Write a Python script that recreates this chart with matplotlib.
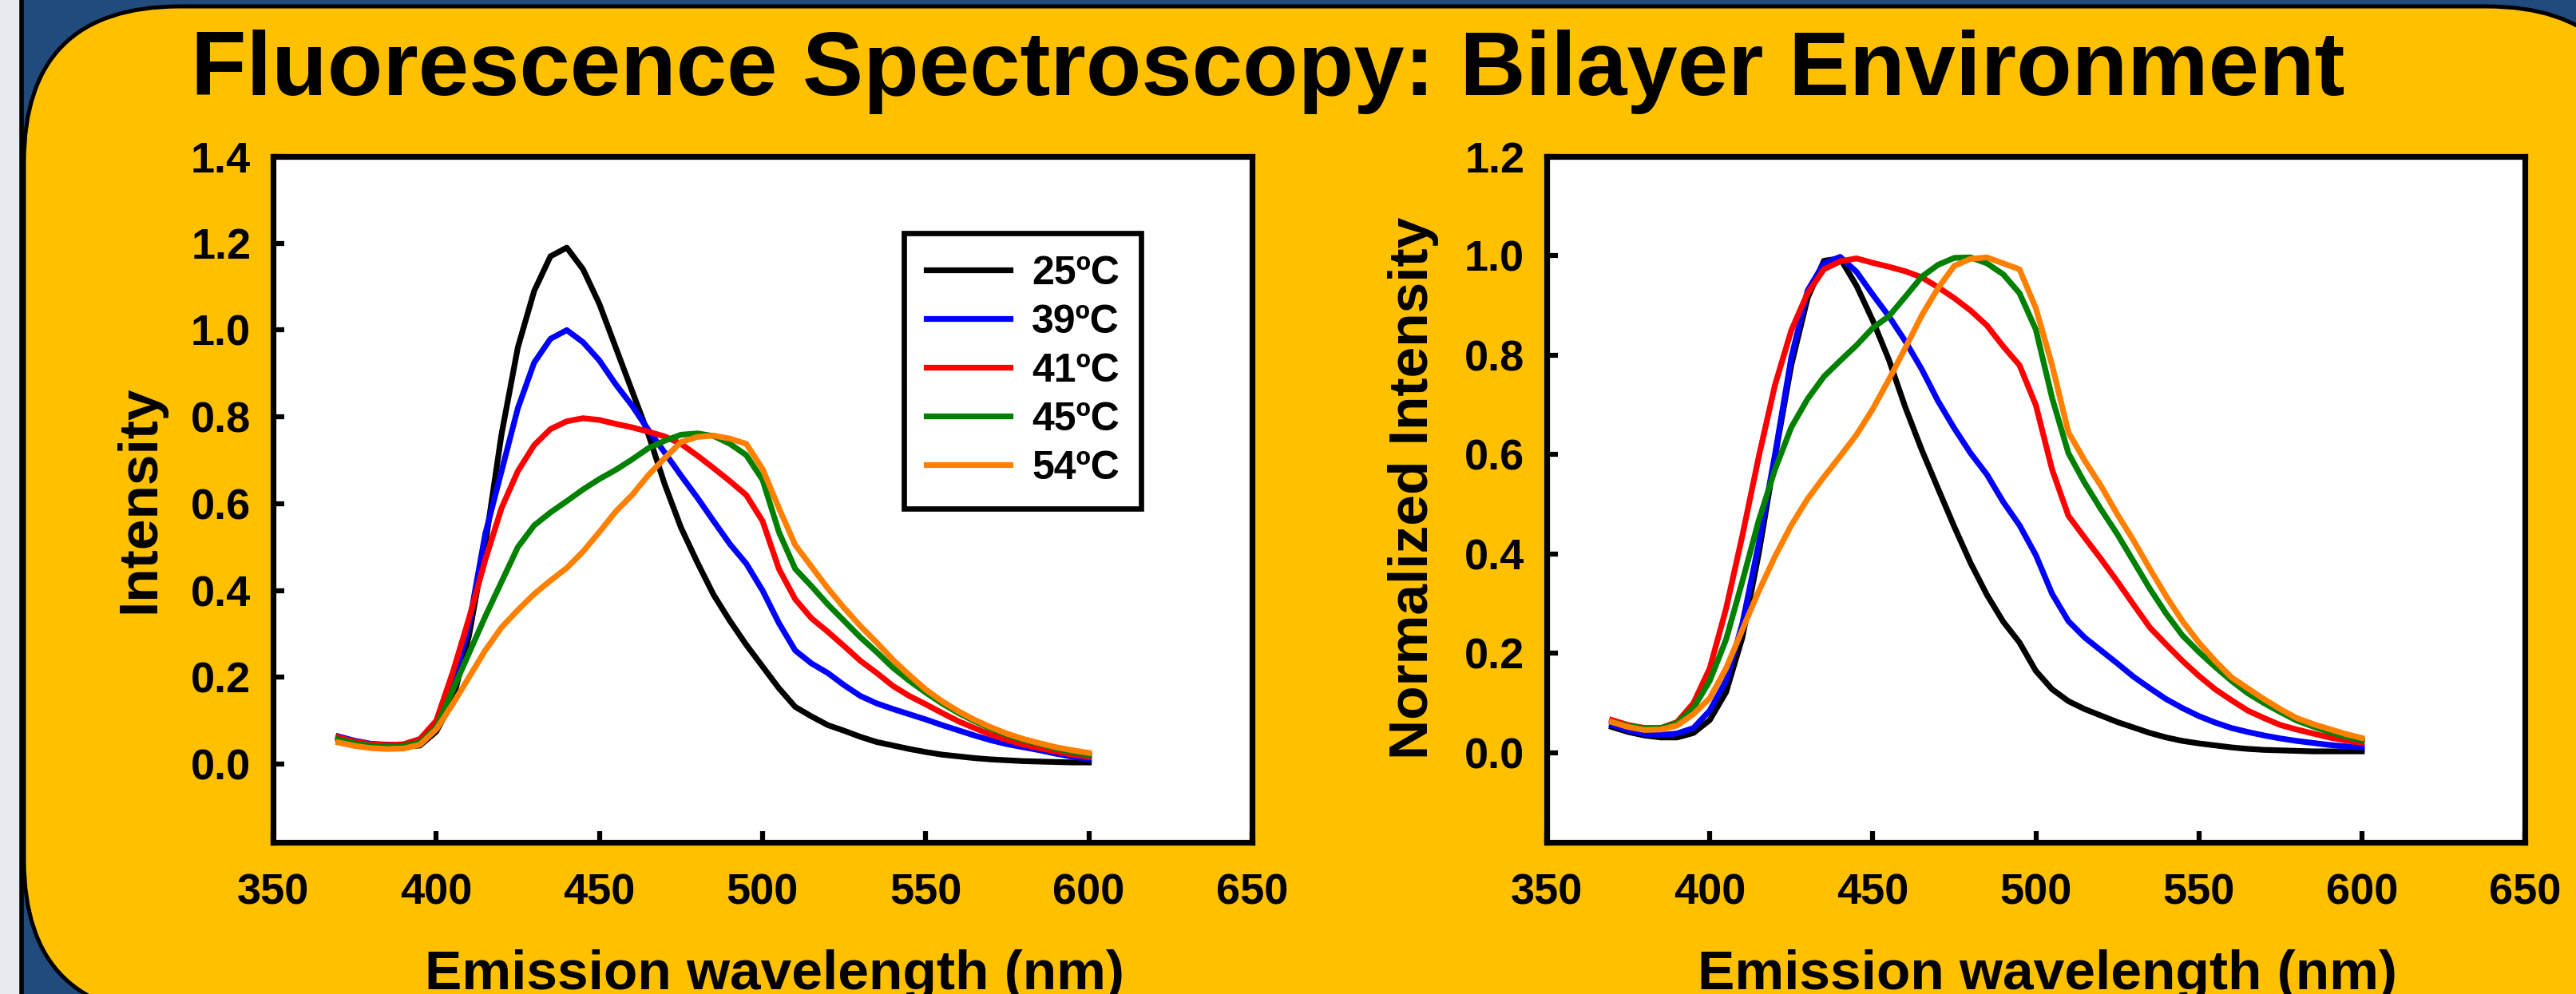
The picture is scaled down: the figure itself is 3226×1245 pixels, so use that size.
import matplotlib
matplotlib.use("Agg")
import matplotlib.pyplot as plt
from matplotlib.patches import Rectangle, FancyBboxPatch
from matplotlib.ticker import FormatStrFormatter

plt.rcParams['font.family'] = ['Liberation Sans', 'DejaVu Sans']
plt.rcParams['font.weight'] = 'bold'

# emission wavelength grid (nm)
wavelength = list(range(370, 601, 5))
temps = ['25ºC', '39ºC', '41ºC', '45ºC', '54ºC']
colors = ['black', '#0000ff', '#ff0000', '#008000', '#ff8000']

# raw intensity (left panel)
int_25 = [0.060, 0.050, 0.044, 0.041, 0.040, 0.043, 0.075, 0.145, 0.295, 0.505,
          0.760, 0.960, 1.090, 1.170, 1.190, 1.140, 1.060, 0.960, 0.860, 0.760,
          0.645, 0.545, 0.465, 0.390, 0.330, 0.275, 0.225, 0.175, 0.132, 0.110,
          0.090, 0.077, 0.063, 0.051, 0.043, 0.035, 0.028, 0.022, 0.018, 0.014,
          0.011, 0.009, 0.007, 0.006, 0.005, 0.004, 0.004]
int_39 = [0.064, 0.054, 0.047, 0.045, 0.045, 0.052, 0.090, 0.180, 0.320, 0.530,
          0.675, 0.820, 0.925, 0.980, 1.000, 0.972, 0.930, 0.875, 0.826, 0.770,
          0.718, 0.665, 0.614, 0.560, 0.507, 0.462, 0.400, 0.325, 0.262, 0.232,
          0.210, 0.182, 0.157, 0.140, 0.127, 0.115, 0.103, 0.090, 0.078, 0.066,
          0.055, 0.046, 0.039, 0.032, 0.024, 0.017, 0.012]
int_41 = [0.062, 0.052, 0.046, 0.044, 0.046, 0.058, 0.100, 0.210, 0.335, 0.470,
          0.590, 0.675, 0.735, 0.772, 0.790, 0.797, 0.793, 0.784, 0.776, 0.766,
          0.755, 0.738, 0.711, 0.682, 0.652, 0.620, 0.560, 0.450, 0.380, 0.336,
          0.305, 0.272, 0.238, 0.210, 0.180, 0.157, 0.138, 0.118, 0.099, 0.083,
          0.068, 0.056, 0.045, 0.037, 0.029, 0.022, 0.017]
int_45 = [0.057, 0.048, 0.042, 0.040, 0.042, 0.050, 0.085, 0.170, 0.255, 0.340,
          0.420, 0.500, 0.550, 0.580, 0.606, 0.633, 0.657, 0.678, 0.702, 0.728,
          0.745, 0.759, 0.762, 0.756, 0.738, 0.712, 0.655, 0.535, 0.450, 0.410,
          0.368, 0.330, 0.292, 0.258, 0.222, 0.192, 0.165, 0.140, 0.118, 0.099,
          0.082, 0.067, 0.055, 0.046, 0.036, 0.028, 0.021]
int_54 = [0.050, 0.042, 0.037, 0.035, 0.036, 0.045, 0.080, 0.138, 0.200, 0.262,
          0.315, 0.355, 0.392, 0.423, 0.452, 0.490, 0.535, 0.582, 0.620, 0.666,
          0.705, 0.742, 0.754, 0.757, 0.750, 0.738, 0.680, 0.590, 0.505, 0.455,
          0.405, 0.360, 0.318, 0.280, 0.240, 0.205, 0.172, 0.145, 0.122, 0.102,
          0.085, 0.070, 0.058, 0.048, 0.039, 0.032, 0.026]

# normalized intensity (right panel)
norm_25 = [0.052, 0.042, 0.035, 0.031, 0.031, 0.040, 0.066, 0.122, 0.232, 0.400,
           0.595, 0.780, 0.915, 0.990, 0.995, 0.940, 0.870, 0.790, 0.695, 0.610,
           0.532, 0.455, 0.382, 0.318, 0.264, 0.222, 0.165, 0.128, 0.104, 0.088,
           0.075, 0.062, 0.051, 0.040, 0.031, 0.024, 0.019, 0.015, 0.011, 0.008,
           0.006, 0.005, 0.004, 0.003, 0.003, 0.003, 0.003]
norm_39 = [0.056, 0.045, 0.038, 0.036, 0.039, 0.050, 0.085, 0.145, 0.260, 0.420,
           0.600, 0.795, 0.930, 0.985, 0.998, 0.968, 0.922, 0.878, 0.828, 0.772,
           0.708, 0.653, 0.603, 0.560, 0.505, 0.458, 0.398, 0.320, 0.265, 0.232,
           0.206, 0.180, 0.153, 0.130, 0.108, 0.090, 0.074, 0.061, 0.050, 0.042,
           0.035, 0.029, 0.024, 0.020, 0.016, 0.013, 0.011]
norm_41 = [0.066, 0.056, 0.050, 0.050, 0.062, 0.100, 0.170, 0.290, 0.437, 0.595,
           0.740, 0.850, 0.925, 0.973, 0.989, 0.995, 0.986, 0.978, 0.969, 0.957,
           0.937, 0.915, 0.890, 0.860, 0.818, 0.780, 0.700, 0.570, 0.477, 0.433,
           0.390, 0.345, 0.298, 0.252, 0.218, 0.185, 0.155, 0.128, 0.106, 0.085,
           0.070, 0.056, 0.047, 0.039, 0.031, 0.025, 0.020]
norm_45 = [0.062, 0.054, 0.050, 0.050, 0.060, 0.090, 0.145, 0.228, 0.345, 0.467,
           0.570, 0.655, 0.712, 0.757, 0.789, 0.820, 0.855, 0.879, 0.918, 0.958,
           0.982, 0.996, 0.997, 0.985, 0.963, 0.925, 0.852, 0.714, 0.603, 0.543,
           0.490, 0.440, 0.385, 0.330, 0.280, 0.236, 0.203, 0.173, 0.145, 0.120,
           0.100, 0.082, 0.065, 0.053, 0.042, 0.033, 0.025]
norm_54 = [0.062, 0.052, 0.046, 0.047, 0.055, 0.078, 0.110, 0.170, 0.248, 0.325,
           0.395, 0.458, 0.511, 0.555, 0.597, 0.640, 0.692, 0.752, 0.815, 0.880,
           0.935, 0.980, 0.994, 0.997, 0.985, 0.973, 0.895, 0.780, 0.645, 0.588,
           0.537, 0.480, 0.427, 0.370, 0.315, 0.265, 0.222, 0.185, 0.152, 0.130,
           0.108, 0.088, 0.070, 0.058, 0.048, 0.038, 0.030]

raw_series = [int_25, int_39, int_41, int_45, int_54]
norm_series = [norm_25, norm_39, norm_41, norm_45, norm_54]

W, H = 3226, 1245
fig = plt.figure(figsize=(W / 100, H / 100), dpi=100)

# poster background: grey strip, blue panel, gold rounded box
bg = fig.add_axes([0, 0, 1, 1], zorder=-10)
bg.set_xlim(0, W)
bg.set_ylim(H, 0)
bg.axis('off')
bg.add_patch(Rectangle((0, 0), W, H, facecolor='#e7eaef', edgecolor='none'))
bg.add_patch(Rectangle((27, -20), W + 50, H + 40, facecolor='#214a7d',
                       edgecolor='black', linewidth=4))
bg.add_patch(FancyBboxPatch((30, 8), 3279, 1264,
                            boxstyle="round,pad=0,rounding_size=195",
                            facecolor='#ffc000', edgecolor='black', linewidth=3.6))

fig.text(1588 / W, 1 - 119 / H, 'Fluorescence Spectroscopy: Bilayer Environment',
         fontsize=82, fontweight='bold', ha='center', va='baseline')

ax_bottom = (H - 1055) / H
ax_height = 859 / H
ax1 = fig.add_axes([342 / W, ax_bottom, 1226 / W, ax_height])
ax2 = fig.add_axes([1937 / W, ax_bottom, 1225 / W, ax_height])

for s, c, t in zip(raw_series, colors, temps):
    ax1.plot(wavelength, s, color=c, linewidth=5.2, label=t)
for s, c, t in zip(norm_series, colors, temps):
    ax2.plot(wavelength, s, color=c, linewidth=5.2, label=t)

ax1.set_ylim(-0.18, 1.4)
ax1.set_yticks([0.0, 0.2, 0.4, 0.6, 0.8, 1.0, 1.2, 1.4])
ax2.set_ylim(-0.18, 1.2)
ax2.set_yticks([0.0, 0.2, 0.4, 0.6, 0.8, 1.0, 1.2])

for ax in (ax1, ax2):
    ax.set_facecolor('white')
    ax.set_xlim(350, 650)
    ax.set_xticks([350, 400, 450, 500, 550, 600, 650])
    ax.yaxis.set_major_formatter(FormatStrFormatter('%.1f'))
    for sp in ax.spines.values():
        sp.set_linewidth(5.2)
        sp.set_color('black')
    ax.tick_params(direction='in', length=10, width=4.5, labelsize=39,
                   top=False, right=False)
    ax.tick_params(axis='x', pad=28)
    ax.tick_params(axis='y', pad=20)
    for lab in ax.get_xticklabels() + ax.get_yticklabels():
        lab.set_fontweight('bold')
    ax.set_xlabel('Emission wavelength (nm)', fontsize=50, fontweight='bold')
    ax.xaxis.set_label_coords(0.512, -0.156)

ax1.set_ylabel('Intensity', fontsize=50, fontweight='bold')
ax1.yaxis.set_label_coords(-0.110, 0.5)
ax2.set_ylabel('Normalized Intensity', fontsize=50, fontweight='bold')
ax2.yaxis.set_label_coords(-0.110, 0.516)

leg = ax1.legend(loc='upper right', bbox_to_anchor=(0.887, 0.888),
                 prop={'size': 36, 'weight': 'bold'}, frameon=True, fancybox=False,
                 edgecolor='black', framealpha=1, handlelength=2.1,
                 handletextpad=0.55, labelspacing=0.3, borderpad=0.55,
                 borderaxespad=0)
leg.get_frame().set_linewidth(4.8)

fig.savefig('out.png', dpi=100)
